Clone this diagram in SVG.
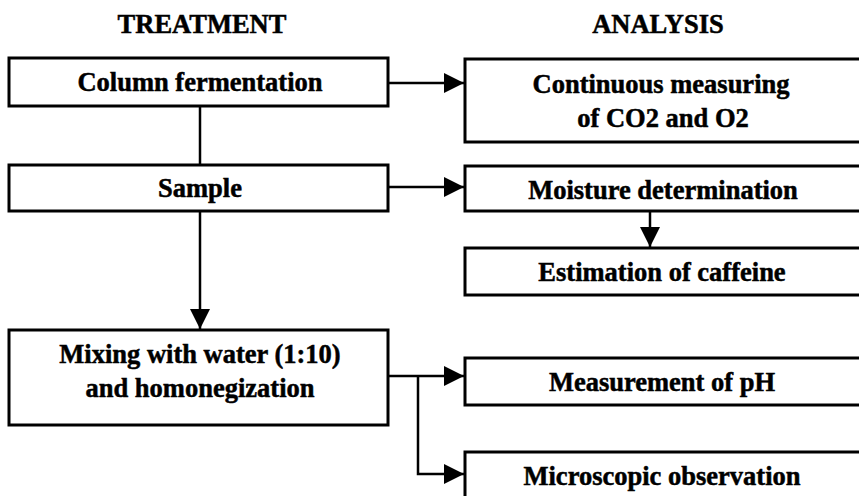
<svg xmlns="http://www.w3.org/2000/svg" width="859" height="496" viewBox="0 0 859 496">
<style>
text{font-family:"Liberation Serif","Times New Roman",serif;font-weight:bold;font-size:26.5px;fill:#000;stroke:#000;stroke-width:0.5;text-anchor:middle}
.box{fill:#fff;stroke:#000;stroke-width:3}
.ln{fill:none;stroke:#000;stroke-width:2.5}
</style>
<defs>
<marker id="ah" viewBox="0 0 20 20" refX="20" refY="10" markerWidth="20" markerHeight="20" markerUnits="userSpaceOnUse" orient="auto">
<path d="M0,0 L20,10 L0,20 Z" fill="#000"/>
</marker>
</defs>
<rect width="859" height="496" fill="#fff"/>
<text x="202" y="33">TREATMENT</text>
<text x="658" y="33">ANALYSIS</text>
<g id="connectors">
<line class="ln" x1="200" y1="106" x2="200" y2="165"/>
<line class="ln" x1="200" y1="211" x2="200" y2="329" marker-end="url(#ah)"/>
<line class="ln" x1="388" y1="83" x2="464" y2="83" marker-end="url(#ah)"/>
<line class="ln" x1="388" y1="187" x2="464" y2="187" marker-end="url(#ah)"/>
<line class="ln" x1="650" y1="211" x2="650" y2="247" marker-end="url(#ah)"/>
<line class="ln" x1="388" y1="376" x2="464" y2="376" marker-end="url(#ah)"/>
<polyline class="ln" points="418,376 418,474 464,474" marker-end="url(#ah)"/>
</g>
<g id="column"><rect class="box" x="9" y="58" width="379" height="48"/><text x="200" y="91">Column fermentation</text></g>
<g id="sample"><rect class="box" x="9" y="165" width="379" height="46"/><text x="200" y="197">Sample</text></g>
<g id="mixing"><rect class="box" x="9" y="330" width="379" height="95"/><text x="200" y="363">Mixing with water (1:10)</text><text x="200" y="397">and homonegization</text></g>
<g id="continuous"><rect class="box" x="465" y="59" width="420" height="83"/><text x="661" y="93">Continuous measuring</text><text x="663" y="127">of CO2 and O2</text></g>
<g id="moisture"><rect class="box" x="465" y="166" width="420" height="45"/><text x="663" y="199">Moisture determination</text></g>
<g id="caffeine"><rect class="box" x="465" y="248" width="420" height="47"/><text x="662" y="281">Estimation of caffeine</text></g>
<g id="ph"><rect class="box" x="465" y="358" width="420" height="47"/><text x="662" y="391">Measurement of pH</text></g>
<g id="micro"><rect class="box" x="465" y="452" width="420" height="60"/><text x="662" y="485">Microscopic observation</text></g>
</svg>
